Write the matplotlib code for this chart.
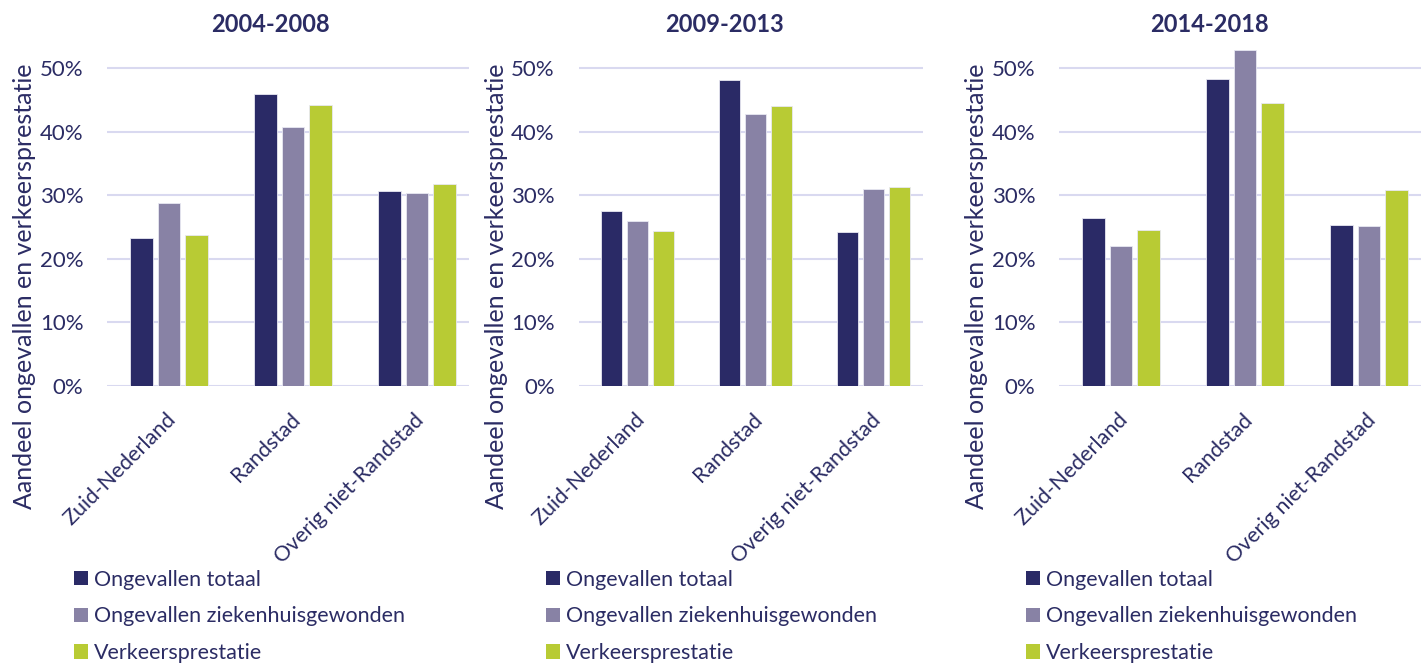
import numpy as np
import matplotlib
matplotlib.use("Agg")
import matplotlib.pyplot as plt
import matplotlib.transforms as mtransforms
from matplotlib.patches import Patch
from matplotlib.ticker import PercentFormatter

plt.rcParams['font.family'] = ['Lato', 'DejaVu Sans']

# data (share per region)
regions = ['Zuid-Nederland', 'Randstad', 'Overig niet-Randstad']
periods = ['2004-2008', '2009-2013', '2014-2018']
series = ['Ongevallen totaal', 'Ongevallen ziekenhuisgewonden', 'Verkeersprestatie']

totaal = [[0.232, 0.459, 0.307],
          [0.275, 0.481, 0.242],
          [0.264, 0.483, 0.253]]
ziekenhuis = [[0.287, 0.408, 0.303],
              [0.260, 0.428, 0.310],
              [0.220, 0.529, 0.251]]
prestatie = [[0.238, 0.442, 0.317],
             [0.244, 0.440, 0.313],
             [0.246, 0.445, 0.308]]

colors = ['#2a2a66', '#8882a5', '#b8cb34']
text_col = '#2b2c64'
grid_col = '#d9d9f0'

W, H = 1424, 666
fig = plt.figure(figsize=(W / 100, H / 100), dpi=100)

# layout in pixels: axes left, group spacing, title x, ylabel x, legend x
axes_left = [107, 578.5, 1059]
spacing = [124, 118, 124]
title_x = [270, 724, 1209]
ylab_x = [25, 496, 976]
leg_x = [65, 537, 1017]

y0, y50 = 386, 68
px_per = (y0 - y50) / 0.5
ymax = 0.54
xl = (-0.5, 2.42)

x = np.arange(len(regions))
bw = 0.178
pitch = 0.222

for i, period in enumerate(periods):
    w = (xl[1] - xl[0]) * spacing[i]
    h = ymax * px_per
    ax = fig.add_axes([axes_left[i] / W, 1 - y0 / H, w / W, h / H])
    vals = [totaal[i], ziekenhuis[i], prestatie[i]]
    for k in range(3):
        ax.bar(x + (k - 1) * pitch, vals[k], width=bw, color=colors[k],
               edgecolor='#e8e8f2', linewidth=0.6, zorder=3)
    ax.set_xlim(*xl)
    ax.set_ylim(0, ymax)
    ax.set_yticks([0, 0.1, 0.2, 0.3, 0.4, 0.5])
    ax.yaxis.set_major_formatter(PercentFormatter(1.0, decimals=0))
    ax.grid(axis='y', color=grid_col, linewidth=1.5, zorder=0)
    for s in ax.spines.values():
        s.set_visible(False)
    ax.tick_params(axis='y', length=0, pad=17, labelsize=16, labelcolor=text_col)
    ax.tick_params(axis='x', length=0, pad=17, labelsize=15.5, labelcolor=text_col)
    ax.set_xticks(x)
    ax.set_xticklabels(regions, rotation=45, ha='right', va='top',
                       rotation_mode='anchor')
    shift = mtransforms.ScaledTranslation(-3 / 100, 0, fig.dpi_scale_trans)
    for lab in ax.get_xticklabels():
        lab.set_transform(lab.get_transform() + shift)

    fig.text(title_x[i] / W, 1 - 25 / H, period, ha='center', va='center',
             fontsize=17, fontweight='bold', color=text_col)
    fig.text(ylab_x[i] / W, 1 - 286 / H,
             'Aandeel ongevallen en verkeersprestatie', rotation=90,
             ha='center', va='center', fontsize=18, color=text_col)

    handles = [Patch(facecolor=c) for c in colors]
    leg = fig.legend(handles, series, loc='upper left',
                     bbox_to_anchor=(leg_x[i] / W, 1 - 561 / H),
                     frameon=False, fontsize=15.5, labelcolor=text_col,
                     handlelength=0.65, handleheight=0.65, handletextpad=0.3,
                     labelspacing=0.78, borderaxespad=0)

fig.savefig('out.png', dpi=100)
